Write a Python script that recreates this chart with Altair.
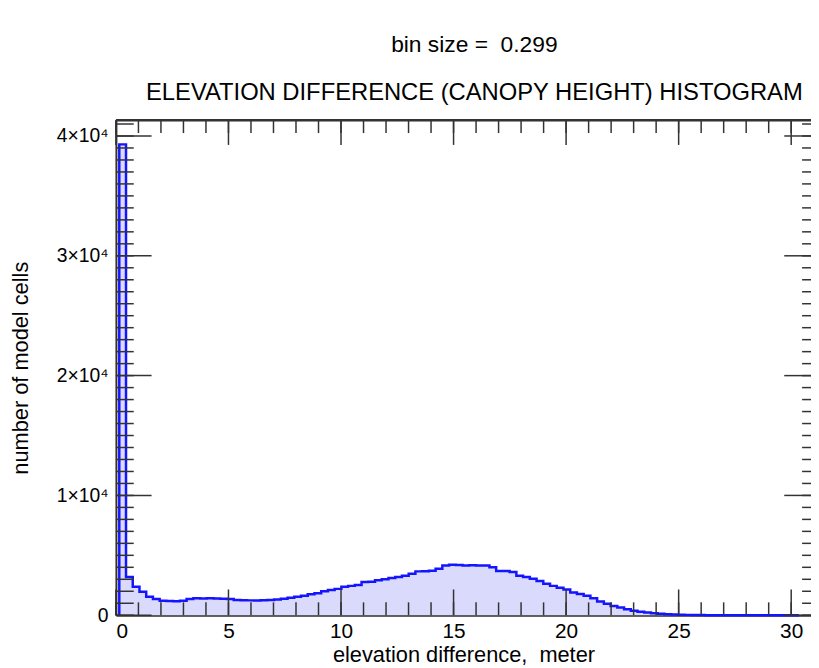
import altair as alt
import pandas as pd

bin_size = 0.299

# counts per bin (bin k centred at k*bin_size, k = 1..101)
counts = [
    39300, 3200, 2370, 1960, 1540, 1350, 1210, 1190, 1170, 1200,
    1350, 1420, 1400, 1410, 1400, 1380, 1350, 1270, 1250, 1240,
    1230, 1250, 1280, 1320, 1380, 1460, 1540, 1620, 1750, 1840,
    2010, 2100, 2200, 2370, 2450, 2520, 2780, 2800, 2920, 3000,
    3110, 3200, 3300, 3470, 3660, 3680, 3720, 3880, 4150, 4210,
    4200, 4160, 4170, 4150, 4150, 4000, 3700, 3690, 3600, 3300,
    3200, 3050, 2860, 2620, 2450, 2300, 2150, 1900, 1780, 1620,
    1420, 1150, 950, 780, 640, 500, 380, 290, 220, 170,
    120, 90, 60, 45, 30, 20, 12, 8, 5, 4,
    3, 2, 2, 1, 1, 1, 0, 0, 0, 0,
    0,
]

x_major = [0, 5, 10, 15, 20, 25, 30]
x_minor = list(range(0, 31))
y_major = [0, 10000, 20000, 30000, 40000]
y_minor = list(range(0, 41001, 1000))

W, H = 702, 500
XMAX, YMAX = 30.88, 41320

FONT = "Liberation Sans"
BLUE = "#1414ff"
FILL = "#dadafc"
INK = "#333333"

# step outline points (left edge of each bin + closing right edge)
xs = [0.5 * bin_size]
ys = [0]
for i, c in enumerate(counts):
    xs.append((i + 0.5) * bin_size)
    ys.append(c)
xs.append((len(counts) + 0.5) * bin_size)
ys.append(counts[-1])
hist = pd.DataFrame({"x": xs, "y": ys, "i": list(range(len(xs)))})

xscale = alt.Scale(domain=[0, XMAX], nice=False, zero=False)
yscale = alt.Scale(domain=[0, YMAX], nice=False)

x_axis = alt.Axis(
    values=x_major, ticks=False, tickSize=0, grid=False,
    domain=True, domainColor=INK, domainWidth=2,
    labelFont=FONT, labelFontSize=21, labelColor="black", labelPadding=5,
    title="elevation difference,\u00a0 meter", titleFont=FONT, titleFontSize=22,
    titleFontWeight="normal", titleColor="black", titlePadding=4,
)
y_axis = alt.Axis(
    values=y_major, ticks=False, tickSize=0, grid=False,
    domain=True, domainColor=INK, domainWidth=2,
    labelExpr="datum.value == 0 ? '0' : format(datum.value / 10000, 'd') + '×10⁴'",
    labelFont=FONT, labelFontSize=19.5, labelColor="black", labelPadding=8,
    title="number of model cells", titleFont=FONT, titleFontSize=22,
    titleFontWeight="normal", titleColor="black", titlePadding=24,
)

area = alt.Chart(hist).mark_area(interpolate="step-after", color=FILL, opacity=1).encode(
    x=alt.X("x:Q", scale=xscale, axis=x_axis),
    y=alt.Y("y:Q", scale=yscale, axis=y_axis),
)
line = alt.Chart(hist).mark_line(interpolate="step-after", color=BLUE, strokeWidth=2.5).encode(
    x=alt.X("x:Q", scale=xscale, axis=x_axis),
    y=alt.Y("y:Q", scale=yscale, axis=y_axis),
    order=alt.Order("i:Q"),
)

xmin_df = pd.DataFrame({"x": x_minor})
xmaj_df = pd.DataFrame({"x": x_major})
ymin_df = pd.DataFrame({"y": y_minor})
ymaj_df = pd.DataFrame({"y": y_major})


def xticks(df, y0, y1):
    return alt.Chart(df).mark_rule(color=INK, strokeWidth=1.5).encode(
        x=alt.X("x:Q", scale=xscale, axis=x_axis), y=alt.value(y0), y2=alt.value(y1)
    )


def yticks(df, x0, x1):
    return alt.Chart(df).mark_rule(color=INK, strokeWidth=1.5).encode(
        y=alt.Y("y:Q", scale=yscale, axis=y_axis), x=alt.value(x0), x2=alt.value(x1)
    )


top_frame = alt.Chart(pd.DataFrame({"a": [0]})).mark_rule(color=INK, strokeWidth=2.5).encode(
    x=alt.value(0), x2=alt.value(W), y=alt.value(0)
)

chart = alt.layer(
    area, line,
    xticks(xmin_df, H, H - 13), xticks(xmaj_df, H, H - 26),
    xticks(xmin_df, 0, 13), xticks(xmaj_df, 0, 25),
    yticks(ymin_df, 0, 18), yticks(ymaj_df, 0, 36),
    yticks(ymin_df, W - 9, W), yticks(ymaj_df, W - 27, W),
    top_frame,
).properties(
    width=W, height=H,
    title=alt.TitleParams(
        text="\u00a0bin size = \u00a00.299",
        subtitle="ELEVATION DIFFERENCE (CANOPY HEIGHT) HISTOGRAM",
        font=FONT, fontSize=23, fontWeight="normal", color="black",
        subtitleFont=FONT, subtitleFontSize=24, subtitleColor="black",
        subtitlePadding=25, offset=14, anchor="middle", dx=11,
    ),
    autosize=alt.AutoSizeParams(type="none"),
    padding={"left": 109, "top": 110, "right": 0, "bottom": 50},
).configure_view(stroke=None).configure(background="white")

chart.save("out.html", embed_options={"renderer": "svg", "actions": False})
